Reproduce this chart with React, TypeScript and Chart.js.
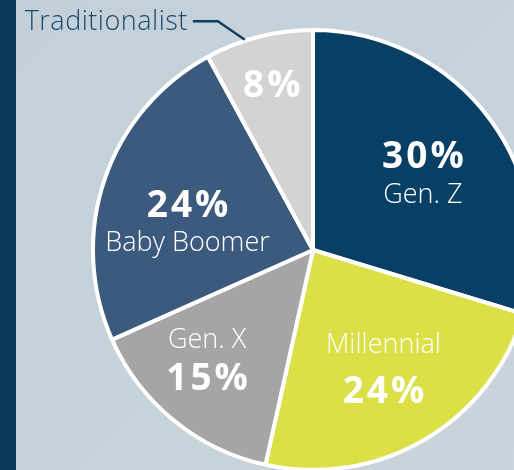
import React, { useEffect, useRef } from "react";
import { Chart, registerables } from "chart.js";

Chart.register(...registerables);

const categories = ["Gen. Z", "Millennial", "Gen. X", "Baby Boomer", "Traditionalist"];
const shares = [30, 24, 15, 24, 8];
const percentLabels = ["30%", "24%", "15%", "24%", "8%"];
const sliceColors = ["#084065", "#dbe046", "#a5a5a5", "#3b5a7e", "#d3d3d3"];

// label layout per slice: order of lines, radius factor, angle shift (deg)
const labelLayout = [
  { pctFirst: true, r: 0.58, shift: 6, gap: 35 },
  { pctFirst: false, r: 0.665, shift: 1.5, gap: 50 },
  { pctFirst: false, r: 0.725, shift: 2.4, gap: 42 },
  { pctFirst: true, r: 0.575, shift: -11.3, gap: 34 },
  { pctFirst: true, r: 0.72, shift: -0.8, gap: 0, outside: true },
];

const FONT = "'Open Sans', 'Noto Sans', sans-serif";

const bgPlugin = {
  id: "bg",
  beforeDraw(chart: any) {
    const { ctx, width, height } = chart;
    ctx.save();
    const g = ctx.createLinearGradient(0, 0, width, height);
    g.addColorStop(0, "#c4d0d9");
    g.addColorStop(1, "#c9d4dc");
    ctx.fillStyle = g;
    ctx.fillRect(0, 0, width, height);
    ctx.fillStyle = "#0c3a5a";
    ctx.fillRect(0, 0, 16, height);
    ctx.restore();
  },
};

const labelPlugin = {
  id: "sliceLabels",
  afterDatasetsDraw(chart: any) {
    const { ctx } = chart;
    const meta = chart.getDatasetMeta(0);
    ctx.save();
    ctx.textAlign = "center";
    ctx.textBaseline = "alphabetic";
    meta.data.forEach((arc: any, i: number) => {
      const lay = labelLayout[i];
      const p = arc.getProps(["x", "y", "startAngle", "endAngle", "outerRadius"], true);
      const mid = (p.startAngle + p.endAngle) / 2 + (lay.shift * Math.PI) / 180;
      const ax = p.x + Math.cos(mid) * p.outerRadius * lay.r;
      const ay = p.y + Math.sin(mid) * p.outerRadius * lay.r;
      ctx.fillStyle = "#ffffff";
      const drawPct = (y: number) => {
        ctx.font = `700 37px ${FONT}`;
        (ctx as any).letterSpacing = "3px";
        ctx.fillText(percentLabels[i], ax + 1.5, y);
      };
      const drawName = (y: number) => {
        ctx.font = `300 27px ${FONT}`;
        (ctx as any).letterSpacing = "0px";
        ctx.fillText(categories[i], ax, y);
      };
      if (lay.outside) {
        drawPct(ay);
        // outside label with leader line
        const ea = p.startAngle + (p.endAngle - p.startAngle) * 0.37;
        const ex = p.x + Math.cos(ea) * (p.outerRadius + 1);
        const ey = p.y + Math.sin(ea) * (p.outerRadius + 1);
        const elx = ex - 27;
        const ely = ey - 18.5;
        ctx.strokeStyle = "#0d3e5f";
        ctx.lineWidth = 2.3;
        ctx.beginPath();
        ctx.moveTo(ex, ey);
        ctx.lineTo(elx, ely);
        ctx.lineTo(elx - 25, ely);
        ctx.stroke();
        ctx.fillStyle = "#1c4a6c";
        ctx.textAlign = "right";
        ctx.font = `300 27px ${FONT}`;
        (ctx as any).letterSpacing = "0.5px";
        ctx.fillText(categories[i], elx - 30, ely + 9);
        ctx.textAlign = "center";
      } else if (lay.pctFirst) {
        drawPct(ay - lay.gap / 2);
        drawName(ay + lay.gap / 2);
      } else {
        drawName(ay - lay.gap / 2);
        drawPct(ay + lay.gap / 2);
      }
    });
    ctx.restore();
  },
};

export default function App() {
  const ref = useRef<HTMLCanvasElement>(null);
  useEffect(() => {
    if (!ref.current) return;
    const chart = new Chart(ref.current, {
      type: "pie",
      data: {
        labels: categories,
        datasets: [
          {
            data: shares,
            backgroundColor: sliceColors,
            borderColor: "#ffffff",
            borderWidth: 4,
            clip: false as any,
          },
        ],
      },
      options: {
        animation: false,
        responsive: false,
        radius: 220,
        layout: { padding: { left: 112, top: 30, right: 0, bottom: 0 } },
        plugins: {
          legend: { display: false },
          tooltip: { enabled: false },
        },
      } as any,
      plugins: [bgPlugin, labelPlugin],
    });
    return () => chart.destroy();
  }, []);
  return (
    <div style={{ position: "fixed", left: 0, top: 0, width: 514, height: 470, overflow: "hidden" }}>
      <canvas ref={ref} width={514} height={470} style={{ display: "block" }} />
    </div>
  );
}
